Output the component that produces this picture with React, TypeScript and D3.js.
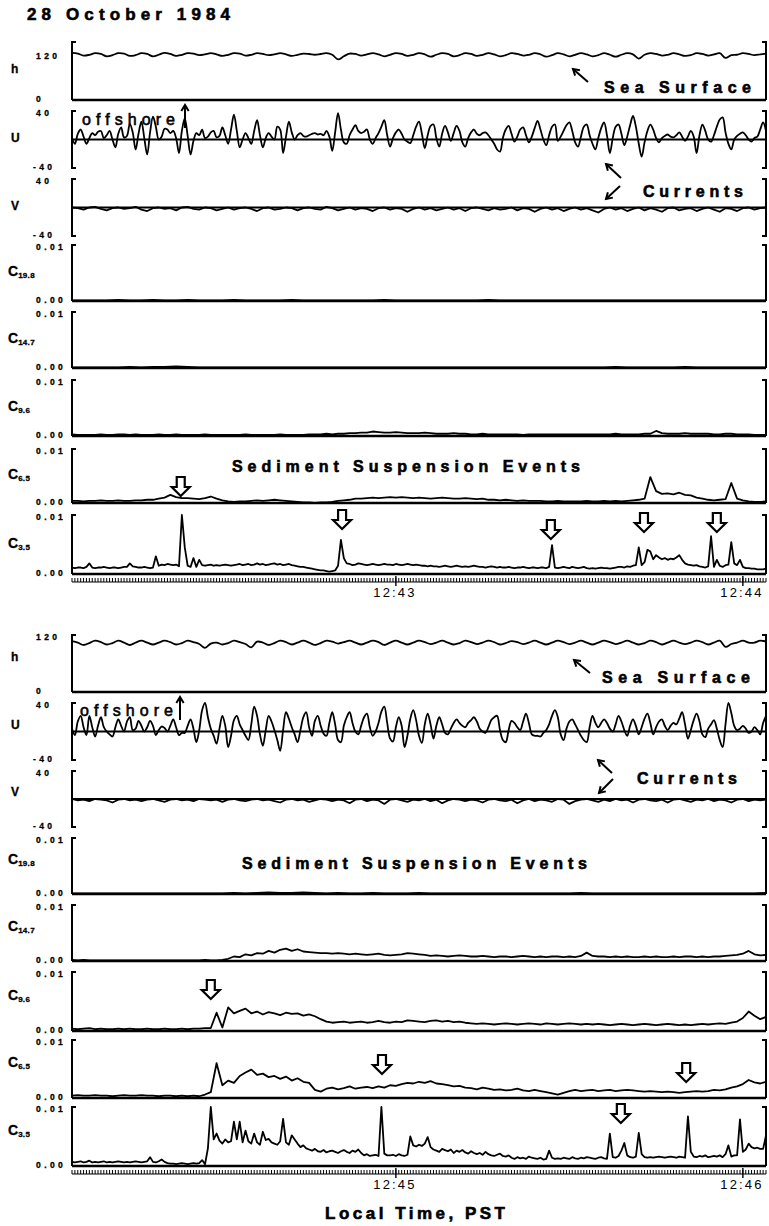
import React from 'react';
import * as d3 from 'd3';

// time is seconds after 12:42:00 PST, each half of the figure is a 2 minute record
const topWindow: [number, number] = [4, 124];
const bottomWindow: [number, number] = [124, 244];

// sea surface h (cm), 1 s apart
const hTop = [
  122, 120, 115, 117, 121, 119, 113, 116, 121, 120, 114, 116, 121, 119, 113, 117, 122, 119, 114, 117,
  121, 120, 116, 118, 121, 118, 114, 117, 121, 120, 115, 117, 121, 119, 116, 118, 121, 118, 114, 117,
  120, 119, 117, 119, 121, 117, 105, 113, 120, 119, 115, 118, 121, 118, 113, 117, 121, 119, 114, 117,
  121, 118, 112, 117, 121, 119, 113, 116, 121, 119, 114, 117, 121, 118, 113, 116, 121, 119, 115, 117,
  121, 118, 112, 116, 121, 118, 113, 117, 121, 118, 113, 116, 121, 117, 112, 117, 121, 118, 107, 117,
  121, 119, 115, 117, 121, 118, 114, 116, 121, 119, 115, 118, 121, 109, 116, 117, 121, 119, 116, 118,
  120,
];
const hBottom = [
  107, 104, 99, 103, 108, 105, 100, 103, 108, 104, 99, 104, 108, 104, 100, 104, 108, 105, 100, 103,
  108, 105, 101, 93, 102, 104, 100, 103, 108, 105, 101, 94, 106, 104, 99, 103, 108, 105, 100, 104,
  108, 104, 99, 103, 108, 106, 102, 105, 108, 104, 100, 104, 108, 105, 99, 104, 108, 104, 100, 104,
  108, 105, 101, 104, 108, 104, 100, 103, 108, 105, 101, 104, 108, 105, 100, 103, 107, 105, 101, 104,
  108, 104, 100, 104, 108, 105, 101, 104, 108, 104, 100, 104, 108, 105, 101, 104, 108, 104, 100, 103,
  108, 105, 100, 104, 108, 104, 101, 104, 108, 105, 100, 104, 108, 95, 101, 104, 108, 104, 104, 108,
  106,
];

// cross-shore current U (cm/s, + offshore), 0.5 s apart
const uTop = [
  2, -6, 8, 14, 4, -6, 2, 9, 6, 11, 12, 2, 6, 12, 0, -11, 8, 17, 3, 5,
  22, 10, -14, 8, 25, 2, -21, 10, 32, 18, 0, 4, 15, 14, 9, 12, 2, -19, 12, 30,
  5, -21, -2, 9, 6, 14, 2, 4, 10, 12, 3, 5, 17, 6, -6, 14, 35, 12, -11, 0,
  9, 2, -6, 12, 27, 6, -11, 2, 9, 4, 0, 18, 14, -19, 4, 25, 10, 0, 6, 9,
  5, 4, 6, 8, 9, 7, 8, 6, 12, 4, -16, 10, 37, 14, -4, -6, 6, 14, 20, 12,
  9, 11, 14, 0, -6, 2, 9, 18, 27, 6, -10, 2, 10, 14, 8, 0, -3, -5, 6, 18,
  25, 8, -12, 6, 19, 21, 2, -10, 8, 19, 10, -2, 9, 19, 12, -4, -10, 2, 10, 14,
  8, 6, 9, 10, 6, 0, -6, -14, -17, 2, 14, 19, 8, -3, 4, 14, 17, 6, -4, 4,
  16, 26, 14, 0, -8, 6, 18, 21, -2, 4, 12, 20, 24, 12, -4, -10, 4, 18, 21, 6,
  -6, -14, 2, 16, 24, 6, -19, 2, 18, 21, 8, -8, 4, 20, 33, 18, -6, -24, -4, 12,
  21, 14, 2, -4, 2, 5, 7, 4, 3, 6, 10, 4, -2, 4, 12, 4, -19, 6, 21, 12,
  0, -3, 6, 18, 28, 31, 10, -6, -14, 0, 5, 8, 10, 6, 0, -3, 2, 4, 14, 24,
  12,
];
const uBottom = [
  4, -5, 14, 22, 6, -5, 22, 6, -7, 8, 20, 6, 0, -4, -7, 6, 17, 8, 0, 14,
  20, 2, 4, 15, 8, 0, 6, 15, 8, -5, 2, 7, 5, 0, 8, 17, 6, -5, -2, -2,
  8, 17, 4, -15, 2, 30, 40, 20, 4, -6, -17, 4, 22, 8, -22, -6, 16, 22, 10, 2,
  -6, -12, 10, 35, 22, -4, -20, 2, 22, 14, 2, -12, -27, 2, 27, 18, 6, -4, -15, 2,
  20, 27, 6, -6, 15, 22, 8, -3, -6, 12, 27, 10, -12, -15, 8, 20, 27, 12, 0, -4,
  8, 20, 25, 6, -6, 0, 12, 28, 35, 12, -10, -14, 6, 20, 8, -22, -6, 18, 30, 16,
  -6, -16, 10, 25, 10, -10, 8, 20, 10, -2, -4, 4, 12, 17, 12, 8, 6, 12, 16, 20,
  14, 4, 0, -2, 6, 16, 20, 22, 2, -12, -15, 2, 15, 12, 6, 2, 14, 25, 12, -4,
  -6, -6, -7, -2, 2, 10, 22, 30, 20, -4, -12, 4, 14, 17, 10, 2, -6, -12, -15, 6,
  22, 12, 6, 12, 17, 12, 4, 0, 10, 22, 14, 2, -6, 8, 17, 8, -4, 6, 18, 25,
  12, -4, 6, 14, 17, 8, 2, 8, 12, 10, 18, 27, 10, -10, 2, 16, 25, 14, -4, -8,
  4, 10, 16, 4, -12, -22, 10, 40, 26, 8, 2, 4, 8, 4, -2, 0, 6, 2, -4, 12,
  22,
];

// longshore current V (cm/s), 1 s apart
const vTop = [
  0, -1, -3, 0, 1, -2, -4, -1, 0, -2, -1, 1, -3, -5, -1, 0, -2, -1, -4, 0,
  1, -2, -3, 0, -1, -4, -2, 0, -3, -1, 0, -2, -5, -1, 0, -3, -2, 0, -1, -4,
  -1, 0, -2, -3, 1, -1, -4, -2, 0, -3, -1, -2, -5, -1, 0, -3, -1, -2, -6, -2,
  0, -3, -1, -4, -2, 0, -3, -1, -5, -1, 0, -2, -4, -1, -3, -2, 0, -4, -1, -2,
  -6, -2, 0, -3, -1, -5, -2, 0, -3, -1, -4, -7, -2, 0, -3, -1, -5, -2, 0, -4,
  -1, -3, -6, -1, 0, -4, -2, -1, -5, -2, 0, -3, -6, -1, -2, -5, -1, 0, -3, -1,
  0,
];
const vBottom = [
  0, -2, -1, -3, 0, -1, -2, -5, -1, 0, -2, -1, -3, -1, 0, -2, -4, -1, 0, -2,
  -1, -3, 0, -1, -2, -1, -4, -1, 0, -2, -3, -1, 0, -2, -1, -3, -5, -1, 0, -2,
  -1, -4, -2, 0, -1, -3, -1, -2, -6, -1, 0, -3, -1, -2, -7, -1, 0, -2, -4, -1,
  -2, 0, -3, -1, -6, -2, 0, -1, -3, -1, -2, -5, -1, 0, -2, -3, -1, -6, -2, 0,
  -3, -1, -2, -4, 0, -1, -7, -3, -1, 0, -2, -4, -1, -3, 0, -2, -1, -5, -1, 0,
  -2, -3, -1, -5, -1, 0, -2, -4, -1, -2, 0, -3, -1, -2, -5, -1, 0, -3, -1, -2,
  -1,
];

// suspended sediment concentration in units of 0.0001, sensors 19.8 .. 3.5 cm above the bed
const c198Top = [
  1, 1, 1, 1, 2, 1, 1, 2, 1, 1, 2, 1, 1, 1, 2, 1, 1, 1, 1, 2, 1, 1, 1, 1, 1, 1, 1, 2, 1, 1,
  1, 1, 1, 1, 1, 1, 2, 1, 1, 1, 1, 1, 1, 1, 1, 1, 1, 1, 1, 1, 1, 1, 1, 1, 1, 1, 1, 1, 1, 1, 1,
];
const c147Top = [
  1, 1, 1, 1, 1, 2, 1, 2, 2, 3, 2, 1, 1, 1, 1, 1, 1, 1, 1, 1, 1, 1, 1, 1, 1, 1, 1, 1, 1, 1,
  1, 1, 1, 1, 1, 1, 1, 1, 1, 1, 1, 1, 1, 1, 1, 1, 1, 2, 1, 1, 1, 1, 1, 2, 1, 1, 1, 1, 1, 1, 1,
];
const c96Top = [
  3, 2, 2, 2, 2, 3, 2, 2, 3, 3, 2, 3, 2, 2, 2, 3, 2, 2, 3, 2, 2, 2, 2, 3, 2, 2, 2, 2, 2, 2,
  3, 2, 2, 2, 2, 2, 3, 2, 2, 2, 2, 3, 3, 3, 4, 3, 4, 4, 5, 5, 6, 6, 8, 7, 6, 6, 7, 6, 5, 5,
  5, 6, 5, 4, 4, 4, 5, 4, 4, 3, 3, 4, 3, 3, 3, 3, 3, 3, 2, 3, 3, 3, 3, 3, 3, 3, 3, 3, 3, 3,
  3, 3, 3, 3, 4, 3, 3, 3, 3, 4, 4, 9, 5, 4, 4, 4, 5, 4, 4, 4, 4, 3, 3, 4, 4, 3, 3, 3, 2, 2, 2,
];
const c65Top = [
  4, 4, 3, 4, 4, 5, 4, 4, 5, 4, 4, 5, 5, 6, 6, 8, 10, 15, 11, 9, 9, 8, 7, 9, 12, 8, 5, 3, 2, 3,
  3, 4, 5, 4, 5, 6, 5, 4, 3, 2, 1, 1, 0, 1, 1, 2, 4, 5, 6, 8, 8, 9, 10, 9, 10, 11, 10, 11, 10, 9,
  10, 9, 8, 9, 10, 9, 8, 8, 9, 8, 7, 8, 6, 6, 5, 6, 5, 4, 5, 4, 4, 4, 3, 3, 4, 3, 3, 3, 3, 4,
  3, 3, 4, 3, 4, 3, 4, 5, 6, 8, 48, 22, 17, 18, 16, 19, 15, 14, 10, 8, 6, 5, 6, 7, 37, 8, 5, 3, 2, 2, 3,
];
const c35Top = [
  11, 10, 11, 11, 10, 12, 18, 11, 10, 11, 11, 12, 11, 10, 11, 11, 10, 11, 12, 12,
  18, 13, 12, 11, 11, 12, 11, 10, 11, 30, 14, 16, 15, 17, 16, 15, 16, 13, 100, 45,
  14, 12, 27, 12, 24, 15, 14, 15, 16, 14, 15, 14, 15, 16, 15, 14, 15, 16, 17, 15,
  16, 17, 15, 16, 18, 16, 17, 15, 16, 17, 18, 16, 17, 15, 16, 17, 15, 14, 13, 12,
  12, 11, 10, 9, 8, 7, 6, 6, 5, 4, 5, 6, 14, 58, 27, 18, 17, 15, 16, 18,
  17, 16, 15, 16, 17, 16, 15, 16, 17, 16, 16, 15, 17, 16, 15, 16, 17, 16, 15, 16,
  15, 14, 14, 13, 14, 13, 13, 12, 13, 14, 13, 12, 13, 14, 13, 12, 13, 12, 13, 14,
  13, 12, 12, 11, 12, 13, 12, 11, 12, 11, 11, 12, 11, 10, 11, 11, 12, 11, 10, 11,
  11, 10, 11, 11, 10, 12, 49, 11, 10, 11, 12, 11, 10, 12, 11, 10, 11, 12, 10, 9,
  10, 9, 10, 11, 10, 10, 9, 10, 11, 12, 12, 11, 13, 12, 14, 15, 45, 15, 20, 41,
  38, 25, 32, 28, 25, 27, 24, 26, 25, 28, 32, 24, 18, 16, 15, 14, 15, 13, 12, 11,
  13, 64, 12, 24, 14, 12, 15, 16, 54, 18, 15, 24, 12, 10, 10, 9, 9, 8, 8, 8,
  9,
];

const c198Bottom = [
  1, 1, 1, 1, 1, 1, 1, 1, 1, 1, 1, 1, 1, 1, 2, 1, 2, 3, 2, 2, 3, 2, 1, 2, 1, 1, 2, 1, 1, 1,
  2, 1, 1, 1, 1, 1, 1, 1, 1, 1, 1, 1, 1, 1, 2, 1, 1, 1, 1, 1, 1, 1, 1, 1, 1, 1, 1, 1, 1, 1, 2,
];
const c147Bottom = [
  2, 1, 2, 1, 1, 1, 1, 1, 1, 1, 1, 1, 1, 1, 1, 1, 1, 1, 1, 1, 1, 1, 1, 2, 1, 1, 2, 4, 8, 7,
  12, 10, 14, 13, 18, 15, 20, 22, 18, 21, 17, 16, 15, 14, 14, 13, 14, 13, 12, 13,
  12, 11, 12, 13, 11, 10, 11, 12, 14, 13, 12, 11, 9, 10, 9, 8, 9, 10, 9, 8,
  8, 9, 8, 7, 8, 8, 7, 8, 9, 8, 7, 8, 7, 8, 8, 7, 8, 7, 9, 15, 9, 8, 8, 7, 8, 7, 8, 7, 7, 8,
  7, 8, 7, 7, 8, 7, 8, 8, 7, 8, 7, 8, 8, 9, 10, 11, 13, 18, 12, 10, 11,
];
const c96Bottom = [
  4, 3, 4, 5, 3, 4, 3, 3, 4, 3, 4, 3, 3, 4, 3, 3, 4, 3, 3, 4, 3, 4, 4, 5, 5, 31, 6, 40, 30, 34,
  38, 30, 33, 28, 32, 30, 27, 31, 29, 30, 26, 28, 25, 20, 16, 14, 15, 16, 14, 15,
  16, 14, 15, 17, 15, 14, 16, 15, 18, 17, 16, 15, 17, 18, 16, 17, 15, 16, 14, 13,
  12, 13, 12, 11, 12, 13, 12, 11, 12, 13, 12, 11, 13, 12, 11, 12, 13, 12, 11, 12,
  11, 12, 11, 10, 11, 12, 11, 10, 11, 12, 11, 10, 11, 12, 11, 10, 11, 10, 11, 12,
  11, 12, 13, 12, 14, 16, 22, 33, 26, 20, 24,
];
const c65Bottom = [
  4, 5, 4, 4, 5, 4, 4, 3, 4, 5, 4, 4, 5, 4, 4, 3, 4, 4, 3, 4, 3, 4, 3, 6, 10, 60, 22, 30, 26, 38,
  44, 49, 40, 42, 36, 38, 33, 37, 30, 34, 28, 26, 14, 11, 16, 18, 15, 17, 20, 16,
  18, 19, 17, 20, 18, 22, 21, 24, 26, 25, 28, 26, 29, 25, 24, 22, 20, 21, 18, 17,
  15, 18, 16, 14, 15, 13, 14, 16, 13, 12, 14, 12, 10, 8, 6, 9, 12, 14, 12, 13,
  14, 12, 13, 14, 12, 13, 14, 13, 12, 11, 12, 11, 10, 11, 10, 9, 10, 11, 12, 11,
  12, 14, 13, 15, 18, 20, 24, 31, 27, 25, 28,
];
const c35Bottom = [
  7, 6, 7, 8, 6, 7, 9, 6, 7, 6, 7, 8, 6, 7, 6, 7, 8, 7, 6, 7,
  6, 7, 8, 7, 6, 7, 8, 15, 7, 6, 8, 11, 7, 5, 4, 4, 3, 4, 5, 4,
  3, 4, 5, 4, 5, 10, 3, 30, 100, 45, 55, 43, 38, 45, 40, 42, 75, 45, 75, 40,
  60, 42, 38, 55, 40, 36, 58, 44, 46, 40, 38, 36, 42, 80, 40, 36, 52, 45, 38, 32,
  35, 30, 28, 26, 29, 25, 24, 27, 23, 25, 26, 24, 22, 25, 27, 24, 22, 26, 24, 28,
  22, 18, 20, 17, 18, 19, 17, 100, 21, 18, 18, 19, 17, 20, 18, 17, 19, 50, 35, 33,
  36, 34, 38, 49, 32, 28, 26, 24, 29, 27, 25, 28, 22, 26, 24, 27, 23, 21, 25, 22,
  20, 22, 19, 24, 20, 18, 17, 19, 21, 17, 16, 18, 14, 12, 15, 13, 14, 12, 16, 14,
  13, 12, 14, 11, 12, 26, 14, 12, 13, 12, 14, 13, 12, 15, 13, 12, 14, 13, 15, 14,
  13, 12, 14, 15, 13, 12, 55, 15, 14, 17, 26, 39, 18, 15, 14, 16, 56, 20, 15, 14,
  15, 14, 15, 16, 15, 14, 15, 16, 15, 14, 16, 15, 14, 84, 24, 16, 15, 17, 16, 18,
  15, 16, 17, 16, 18, 15, 20, 35, 16, 18, 18, 79, 24, 28, 38, 32, 30, 31, 29, 29,
  52,
];

// minute marks on the time axis
const minutesTop = [60, 120];
const minuteLabelsTop = ['12:43', '12:44'];
const minutesBottom = [180, 240];
const minuteLabelsBottom = ['12:45', '12:46'];

// times of the marked sediment suspension events (row = panel index)
const eventsTop = [
  { t: 22.8, row: 6, dy: 28 },
  { t: 50.7, row: 7, dy: -5 },
  { t: 86.8, row: 7, dy: 5 },
  { t: 102.9, row: 7, dy: -2 },
  { t: 115.5, row: 7, dy: -2 },
];
const eventsBottom = [
  { t: 148, row: 5, dy: 8 },
  { t: 177.6, row: 6, dy: 15 },
  { t: 230.2, row: 6, dy: 23 },
  { t: 218.9, row: 7, dy: -3 },
];

const FONT = '"Liberation Sans", Arial, Helvetica, sans-serif';
const LEFT = 72;
const RIGHT = 766;

type Row = { name: string; sub?: string; ticks: [number, number]; tickText: [string, string]; kind: 'axis' | 'bracket'; smooth: boolean };

const rows: Row[] = [
  { name: 'h', ticks: [0, 120], tickText: ['0', '120'], kind: 'axis', smooth: true },
  { name: 'U', ticks: [-40, 40], tickText: ['-40', '40'], kind: 'bracket', smooth: true },
  { name: 'V', ticks: [-40, 40], tickText: ['-40', '40'], kind: 'bracket', smooth: false },
  { name: 'C', sub: '19.8', ticks: [0, 100], tickText: ['0.00', '0.01'], kind: 'axis', smooth: false },
  { name: 'C', sub: '14.7', ticks: [0, 100], tickText: ['0.00', '0.01'], kind: 'axis', smooth: false },
  { name: 'C', sub: '9.6', ticks: [0, 100], tickText: ['0.00', '0.01'], kind: 'axis', smooth: false },
  { name: 'C', sub: '6.5', ticks: [0, 100], tickText: ['0.00', '0.01'], kind: 'axis', smooth: false },
  { name: 'C', sub: '3.5', ticks: [0, 100], tickText: ['0.00', '0.01'], kind: 'axis', smooth: false },
];

type Section = {
  window: [number, number];
  frames: [number, number][];
  hTopValue: number;
  series: number[][];
  minutes: number[];
  minuteLabels: string[];
  events: { t: number; row: number; dy: number }[];
  labelShift: number;
};

const sections: Section[] = [
  {
    window: topWindow,
    frames: [[42, 100], [111, 168], [179, 236], [245, 301], [312, 368], [380, 436], [449, 503], [515, 574]],
    hTopValue: 150,
    series: [hTop, uTop, vTop, c198Top, c147Top, c96Top, c65Top, c35Top],
    minutes: minutesTop,
    minuteLabels: minuteLabelsTop,
    events: eventsTop,
    labelShift: -2,
  },
  {
    window: bottomWindow,
    frames: [[635, 692], [703, 760], [771, 827], [838, 894], [905, 961], [972, 1031], [1040, 1098], [1107, 1166]],
    hTopValue: 120,
    series: [hBottom, uBottom, vBottom, c198Bottom, c147Bottom, c96Bottom, c65Bottom, c35Bottom],
    minutes: minutesBottom,
    minuteLabels: minuteLabelsBottom,
    events: eventsBottom,
    labelShift: -7,
  },
];

function HollowArrow({ cx, y0 }: { cx: number; y0: number }) {
  const d = `M${cx - 4},${y0}h8v10h5l-9,9l-9,-9h5z`;
  return <path d={d} fill="#fff" stroke="#000" strokeWidth={2.2} />;
}

function LineArrow({ x1, y1, x2, y2 }: { x1: number; y1: number; x2: number; y2: number }) {
  const a = Math.atan2(y2 - y1, x2 - x1);
  const h = 7;
  const p1 = [x2 - h * Math.cos(a - 0.55), y2 - h * Math.sin(a - 0.55)];
  const p2 = [x2 - h * Math.cos(a + 0.55), y2 - h * Math.sin(a + 0.55)];
  return (
    <g stroke="#000" strokeWidth={2} fill="none">
      <line x1={x1} y1={y1} x2={x2} y2={y2} />
      <polyline points={`${p1[0]},${p1[1]} ${x2},${y2} ${p2[0]},${p2[1]}`} />
    </g>
  );
}

function SectionPlot({ sec }: { sec: Section }) {
  const x = d3.scaleLinear().domain(sec.window).range([LEFT, RIGHT]);
  const last = sec.frames[sec.frames.length - 1];
  const axisY = last[1];
  const halfTicks = d3.range(Math.ceil(sec.window[0] * 2) / 2, sec.window[1] + 1e-9, 0.5);

  return (
    <g>
      {rows.map((row, k) => {
        const [top, bottom] = sec.frames[k];
        const dom: [number, number] = k === 0 ? [0, sec.hTopValue] : [row.ticks[0], row.ticks[1]];
        const y = d3.scaleLinear().domain(dom).range([bottom, top]);
        const vals = sec.series[k];
        const step = (sec.window[1] - sec.window[0]) / (vals.length - 1);
        const line = d3
          .line<number>()
          .x((_, i) => x(sec.window[0] + i * step))
          .y((v) => y(Math.max(dom[0], Math.min(dom[1], v))))
          .curve(row.smooth ? d3.curveCatmullRom.alpha(0.5) : d3.curveLinear);
        const mid = (top + bottom) / 2 + sec.labelShift;
        return (
          <g key={k}>
            {/* left and right brackets */}
            <path
              d={row.kind === 'bracket'
                ? `M${LEFT + 4},${top}H${LEFT}V${bottom}H${LEFT + 4}`
                : `M${LEFT + 4},${top}H${LEFT}V${bottom}`}
              fill="none" stroke="#000" strokeWidth={2}
            />
            <path
              d={row.kind === 'bracket'
                ? `M${RIGHT - 4},${top}H${RIGHT}V${bottom}H${RIGHT - 4}`
                : `M${RIGHT - 4},${top}H${RIGHT}V${bottom}`}
              fill="none" stroke="#000" strokeWidth={2}
            />
            {row.kind === 'axis' ? (
              <line x1={LEFT} x2={RIGHT} y1={bottom} y2={bottom} stroke="#000" strokeWidth={2.6} />
            ) : (
              <line x1={LEFT} x2={RIGHT} y1={y(0)} y2={y(0)} stroke="#000" strokeWidth={1.8} />
            )}
            <path d={line(vals) ?? ''} fill="none" stroke="#000" strokeWidth={1.8} strokeLinejoin="round" />
            {/* tick labels */}
            {row.ticks.map((tv, j) => (
              <text
                key={j}
                x={row.tickText[j].startsWith('-') ? 33 : 36}
                y={j === 0 ? y(tv) - 1 : y(tv) + 2}
                dominantBaseline="central"
                fontFamily={FONT}
                fontWeight="bold"
                fontSize={8.5}
                letterSpacing={3.4}
                stroke="#000"
                strokeWidth={0.3}
              >
                {row.tickText[j]}
              </text>
            ))}
            {/* row label */}
            <text x={row.sub ? 8 : 11} y={mid} dominantBaseline="central" fontFamily={FONT} fontWeight="bold" fontSize={row.sub ? 14 : 12} stroke="#000" strokeWidth={0.3}>
              {row.name}
              {row.sub && (
                <tspan fontSize={8} dy={4} letterSpacing={0.3}>
                  {row.sub}
                </tspan>
              )}
            </text>
          </g>
        );
      })}

      {/* time axis */}
      <line x1={LEFT} x2={RIGHT} y1={axisY + 8} y2={axisY + 8} stroke="#000" strokeWidth={1.2} />
      {halfTicks.map((t) => (
        <line key={t} x1={x(t)} x2={x(t)} y1={axisY + 4} y2={axisY + 8} stroke="#000" strokeWidth={1} />
      ))}
      {sec.minutes.map((t, i) => (
        <g key={t}>
          <line x1={x(t)} x2={x(t)} y1={axisY + 2} y2={axisY + 12} stroke="#000" strokeWidth={1.4} />
          <text x={x(t) - 2} y={axisY + 18.5} textAnchor="middle" dominantBaseline="central" fontFamily={FONT} fontSize={13} textLength={41} lengthAdjust="spacing">
            {sec.minuteLabels[i]}
          </text>
        </g>
      ))}

      {sec.events.map((e, i) => (
        <HollowArrow key={i} cx={x(e.t)} y0={sec.frames[e.row][0] + e.dy} />
      ))}
    </g>
  );
}

export default function App() {
  const bold = {
    fontFamily: FONT,
    fontWeight: 'bold' as const,
    dominantBaseline: 'central' as const,
    lengthAdjust: 'spacing' as const,
    stroke: '#000',
    strokeWidth: 0.6,
  };
  const plain = {
    fontFamily: FONT,
    dominantBaseline: 'central' as const,
    lengthAdjust: 'spacing' as const,
    stroke: '#000',
    strokeWidth: 0.6,
  };
  return (
    <div style={{ position: 'absolute', left: 0, top: 0 }}>
      <svg width={769} height={1226} style={{ display: 'block', background: '#fff' }}>
        <text x={27} y={14.5} fontSize={17} textLength={203} {...bold}>28 October 1984</text>

        {sections.map((s, i) => (
          <SectionPlot key={i} sec={s} />
        ))}

        {/* annotations, top half */}
        <text x={604} y={87} fontSize={16} textLength={147} {...bold}>Sea Surface</text>
        <LineArrow x1={588} y1={82} x2={573} y2={69} />
        <text x={82} y={119} fontSize={16} textLength={93} {...plain}>offshore</text>
        <LineArrow x1={185} y1={128} x2={185} y2={105} />
        <text x={643} y={191} fontSize={16} textLength={100} {...bold}>Currents</text>
        <LineArrow x1={621} y1={178} x2={606} y2={164} />
        <LineArrow x1={620} y1={186} x2={606} y2={199} />
        <text x={232} y={466} fontSize={16} textLength={348} {...bold}>Sediment Suspension Events</text>

        {/* annotations, bottom half */}
        <text x={602} y={677} fontSize={16} textLength={148} {...bold}>Sea Surface</text>
        <LineArrow x1={590} y1={673} x2={574} y2={660} />
        <text x={80} y={710} fontSize={16} textLength={93} {...plain}>offshore</text>
        <LineArrow x1={180} y1={720} x2={180} y2={697} />
        <text x={637} y={778} fontSize={16} textLength={100} {...bold}>Currents</text>
        <LineArrow x1={612} y1={773} x2={598} y2={760} />
        <LineArrow x1={613} y1={779} x2={599} y2={793} />
        <text x={242} y={863} fontSize={16} textLength={345} {...bold}>Sediment Suspension Events</text>

        <text x={325} y={1213} fontSize={17} textLength={180} {...bold}>Local Time, PST</text>
      </svg>
    </div>
  );
}
